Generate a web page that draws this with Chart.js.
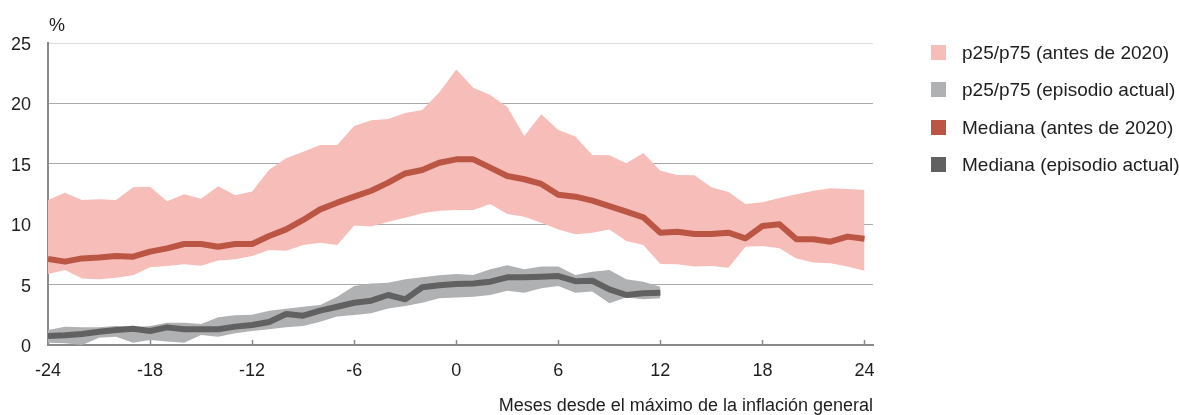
<!DOCTYPE html>
<html>
<head>
<meta charset="utf-8">
<script src="https://cdn.jsdelivr.net/npm/chart.js@4.4.1/dist/chart.umd.min.js"></script>
<style>
  html, body { margin: 0; padding: 0; background: #fff; }
  #wrap { position: relative; width: 1179px; height: 415px; font-family: "Liberation Sans", Arial, Helvetica, sans-serif; color: #1e1e1e; }
  #unit { position: absolute; left: 49px; top: 15px; font-size: 18px; }
  .leg { position: absolute; left: 931px; font-size: 19px; line-height: 20px; white-space: nowrap; }
  .leg span { display: inline-block; width: 15px; height: 15px; vertical-align: -1px; margin-right: 16px; }
</style>
</head>
<body>
<div id="wrap">
  <canvas id="chart" width="1179" height="415"></canvas>
  <div id="unit">%</div>
  <div class="leg" style="top:43px"><span style="background:#f6bdb9"></span>p25/p75 (antes de 2020)</div>
  <div class="leg" style="top:80px"><span style="background:#b0b1b3"></span>p25/p75 (episodio actual)</div>
  <div class="leg" style="top:118px"><span style="background:#bc5644"></span>Mediana (antes de 2020)</div>
  <div class="leg" style="top:155px"><span style="background:#616161"></span>Mediana (episodio actual)</div>
</div>
<script>
// months relative to the inflation peak
var months = [];
for (var m = -24; m <= 24; m++) months.push(m);

// before 2020 (-24..24)
var preMedian = [7.12, 6.9, 7.17, 7.25, 7.37, 7.31, 7.73, 8.0, 8.36, 8.36, 8.14, 8.36, 8.36, 9.02, 9.57,
  10.35, 11.23, 11.78, 12.28, 12.77, 13.44, 14.2, 14.49, 15.09,
  15.37, 15.37, 14.68, 13.99, 13.72, 13.33, 12.44, 12.28, 11.95, 11.5, 11.04, 10.57, 9.3,
  9.38, 9.19, 9.19, 9.3, 8.83, 9.85, 10.0, 8.75, 8.75, 8.55, 8.97, 8.8];
var preP75 = [12.0, 12.6, 12.0, 12.06, 12.0, 13.05, 13.1, 11.9, 12.47, 12.1, 13.15, 12.4, 12.7, 14.5, 15.45,
  16.0, 16.55, 16.55, 18.13, 18.6, 18.7, 19.2, 19.45, 20.9,
  22.8, 21.3, 20.7, 19.7, 17.3, 19.1, 17.8, 17.25, 15.73, 15.7, 15.04, 15.9, 14.43,
  14.07, 14.05, 13.05, 12.67, 11.67, 11.81, 12.17, 12.47, 12.77, 12.97, 12.91, 12.83];
var preP25 = [5.88, 6.2, 5.5, 5.44, 5.57, 5.77, 6.43, 6.54, 6.68, 6.57, 7.0, 7.09, 7.37, 7.86, 7.8,
  8.28, 8.47, 8.28, 9.9, 9.8, 10.2, 10.54, 10.9, 11.12,
  11.17, 11.17, 11.67, 10.84, 10.62, 10.13, 9.57, 9.16, 9.3, 9.57, 8.6, 8.28, 6.7,
  6.68, 6.49, 6.54, 6.4, 8.14, 8.2, 8.0, 7.17, 6.82, 6.77, 6.49, 6.15];

// current episode (-24..12)
var curMedian = [0.74, 0.8, 0.91, 1.1, 1.24, 1.35, 1.16, 1.46, 1.3, 1.3, 1.3, 1.52, 1.66, 1.9, 2.57,
  2.43, 2.84, 3.17, 3.5, 3.67, 4.14, 3.78, 4.78, 4.94,
  5.05, 5.1, 5.24, 5.6, 5.6, 5.65, 5.71, 5.28, 5.32, 4.61, 4.14, 4.28, 4.33];
var curP75 = [1.24, 1.52, 1.46, 1.46, 1.57, 1.46, 1.57, 1.85, 1.85, 1.74, 2.29, 2.46, 2.5, 2.84, 3.0,
  3.17, 3.31, 4.0, 4.88, 5.1, 5.16, 5.44, 5.6, 5.77,
  5.88, 5.8, 6.27, 6.6, 6.27, 6.49, 6.49, 5.8, 6.07, 6.2, 5.44, 5.24, 4.83];
var curP25 = [0.19, 0.14, 0.0, 0.6, 0.69, 0.19, 0.41, 0.28, 0.19, 0.83, 0.69, 0.97, 1.16, 1.3, 1.46,
  1.57, 1.93, 2.35, 2.48, 2.62, 3.03, 3.22, 3.5, 3.86,
  3.94, 4.0, 4.14, 4.5, 4.33, 4.69, 4.88, 4.33, 4.42, 3.45, 3.94, 3.78, 3.86];

var xTicks = [-24, -18, -12, -6, 0, 6, 12, 18, 24];
var yTicks = [0, 5, 10, 15, 20, 25];

function pts(vals) {
  return vals.map(function (v, i) { return { x: months[i], y: v }; });
}

var FONT = { family: '"Liberation Sans", Arial, Helvetica, sans-serif', size: 18 };

// small upward tick marks on the x axis
var axisTicks = {
  id: 'axisTicks',
  beforeDatasetsDraw: function (chart) {
    var ctx = chart.ctx, xs = chart.scales.x, y0 = chart.chartArea.bottom;
    ctx.save();
    ctx.strokeStyle = '#8a8a8a';
    ctx.lineWidth = 1.5;
    xTicks.forEach(function (t) {
      var px = Math.round(xs.getPixelForValue(t)) + 0.5;
      ctx.beginPath();
      ctx.moveTo(px, y0);
      ctx.lineTo(px, y0 - 5);
      ctx.stroke();
    });
    ctx.restore();
  }
};

new Chart(document.getElementById('chart'), {
  type: 'line',
  data: {
    datasets: [
      { data: pts(preP25), borderWidth: 0, pointRadius: 0, fill: false, order: 10 },
      { data: pts(preP75), borderWidth: 0, pointRadius: 0, fill: '-1', backgroundColor: '#f6bdb9', order: 9 },
      { data: pts(curP25), borderWidth: 0, pointRadius: 0, fill: false, order: 8 },
      { data: pts(curP75), borderWidth: 0, pointRadius: 0, fill: '-1', backgroundColor: '#b0b1b3', order: 7 },
      { data: pts(preMedian), borderColor: '#bc5644', borderWidth: 6, pointRadius: 0, fill: false, borderJoinStyle: 'round', order: 2 },
      { data: pts(curMedian), borderColor: '#616161', borderWidth: 6, pointRadius: 0, fill: false, borderJoinStyle: 'round', order: 1 }
    ]
  },
  options: {
    responsive: false,
    animation: false,
    events: [],
    layout: { padding: { top: 43, right: 306, left: 0, bottom: 0 } },
    plugins: { legend: { display: false }, tooltip: { enabled: false } },
    scales: {
      x: {
        type: 'linear',
        min: -24,
        max: 24.5,
        afterFit: function (s) { s.height = 70; },
        afterBuildTicks: function (s) { s.ticks = xTicks.map(function (v) { return { value: v }; }); },
        grid: { display: false, drawTicks: false },
        border: { display: true, color: '#8a8a8a', width: 2 },
        ticks: { padding: 15, color: '#1e1e1e', font: FONT, maxRotation: 0 },
        title: { display: true, text: 'Meses desde el máximo de la inflación general', align: 'end', color: '#1e1e1e', font: FONT, padding: { top: 0, bottom: -2 } }
      },
      y: {
        min: 0,
        max: 25,
        afterFit: function (s) { s.width = 48; },
        afterBuildTicks: function (s) { s.ticks = yTicks.map(function (v) { return { value: v }; }); },
        grid: {
          drawTicks: false,
          color: function (c) { return c.tick && c.tick.value === 25 ? '#dedede' : '#a9a9a9'; },
          lineWidth: function (c) { return c.tick && c.tick.value === 0 ? 0 : 1; }
        },
        border: { display: true, color: '#8a8a8a', width: 2 },
        ticks: { padding: 17, labelOffset: 2, color: '#1e1e1e', font: FONT }
      }
    }
  },
  plugins: [axisTicks]
});
</script>
</body>
</html>
